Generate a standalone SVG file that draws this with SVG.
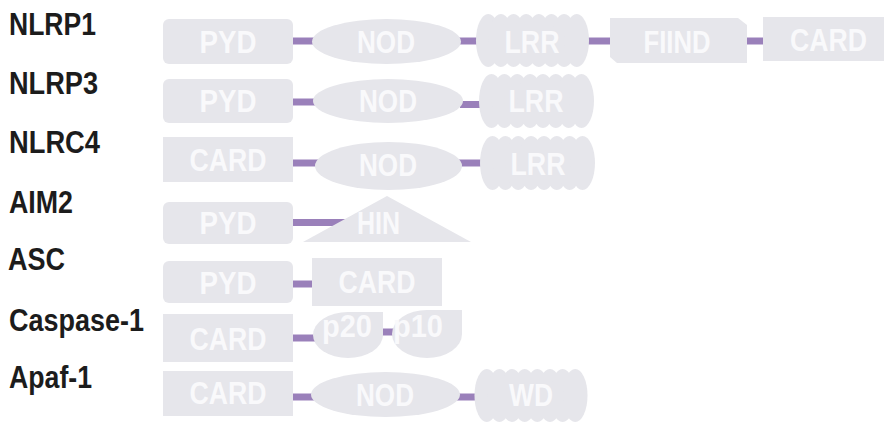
<svg xmlns="http://www.w3.org/2000/svg" xmlns:xlink="http://www.w3.org/1999/xlink" width="884" height="423" viewBox="0 0 884 423">
<style>
.lbl{font-family:"Liberation Sans",Arial,sans-serif;font-weight:bold;font-size:31px;fill:#1c1c1c}
.dom{fill:#e6e6eb}
.dt{font-family:"Liberation Sans",Arial,sans-serif;font-weight:bold;font-size:31px;fill:#f9f9fb;text-anchor:middle}
.con line{stroke:#9a80ba;stroke-width:7;stroke-linecap:butt}
</style>
<defs>
<g id="scallop">
<ellipse cx="-45" cy="0" rx="12.5" ry="27"/>
<ellipse cx="-32.14" cy="0" rx="12.5" ry="27"/>
<ellipse cx="-19.29" cy="0" rx="12.5" ry="27"/>
<ellipse cx="-6.43" cy="0" rx="12.5" ry="27"/>
<ellipse cx="6.43" cy="0" rx="12.5" ry="27"/>
<ellipse cx="19.29" cy="0" rx="12.5" ry="27"/>
<ellipse cx="32.14" cy="0" rx="12.5" ry="27"/>
<ellipse cx="45" cy="0" rx="12.5" ry="27"/>
</g>
</defs>
<rect width="884" height="423" fill="#ffffff"/>

<g id="labels">
<text class="lbl" x="9" y="35" textLength="87" lengthAdjust="spacingAndGlyphs">NLRP1</text>
<text class="lbl" x="9" y="94" textLength="89" lengthAdjust="spacingAndGlyphs">NLRP3</text>
<text class="lbl" x="9" y="153" textLength="91" lengthAdjust="spacingAndGlyphs">NLRC4</text>
<text class="lbl" x="9" y="213" textLength="64" lengthAdjust="spacingAndGlyphs">AIM2</text>
<text class="lbl" x="8" y="270" textLength="57" lengthAdjust="spacingAndGlyphs">ASC</text>
<text class="lbl" x="9" y="331" textLength="135" lengthAdjust="spacingAndGlyphs">Caspase-1</text>
<text class="lbl" x="9" y="388" textLength="83" lengthAdjust="spacingAndGlyphs">Apaf-1</text>
</g>

<g id="connectors" class="con">
<line x1="292" y1="41" x2="316" y2="41"/>
<line x1="458" y1="41" x2="480" y2="41"/>
<line x1="586" y1="41" x2="613" y2="41"/>
<line x1="745" y1="41" x2="766" y2="41"/>
<line x1="292" y1="102" x2="317" y2="102"/>
<line x1="460" y1="104.5" x2="482" y2="104.5"/>
<line x1="292" y1="163" x2="318" y2="163"/>
<line x1="459" y1="163" x2="484" y2="163"/>
<line x1="292" y1="222.5" x2="350" y2="222.5"/>
<line x1="292" y1="284" x2="315" y2="284"/>
<line x1="292" y1="338" x2="320" y2="338"/>
<line x1="380" y1="332" x2="395" y2="332"/>
<line x1="292" y1="397" x2="315" y2="397"/>
<line x1="457" y1="397" x2="478" y2="397"/>
</g>

<g id="nlrp1">
<g id="nlrp1-pyd"><rect class="dom" x="163" y="19" width="130" height="45" rx="6"/><text class="dt" x="228" y="53" textLength="57" lengthAdjust="spacingAndGlyphs">PYD</text></g>
<g id="nlrp1-nod"><ellipse class="dom" cx="386.5" cy="41.5" rx="74.5" ry="22.5"/><text class="dt" x="386" y="53" textLength="58" lengthAdjust="spacingAndGlyphs">NOD</text></g>
<g id="nlrp1-lrr"><use xlink:href="#scallop" class="dom" transform="translate(532.5,40.5) scale(0.983,0.98)"/><text class="dt" x="532" y="53" textLength="55" lengthAdjust="spacingAndGlyphs">LRR</text></g>
<g id="nlrp1-fiind"><path class="dom" d="M610,18 L738,18 L747,25 L747,63 L617,63 L610,57 Z"/><text class="dt" x="677" y="53" textLength="67" lengthAdjust="spacingAndGlyphs">FIIND</text></g>
<g id="nlrp1-card"><rect class="dom" x="763" y="17" width="131" height="44"/><text class="dt" x="828.5" y="51" textLength="77" lengthAdjust="spacingAndGlyphs">CARD</text></g>
</g>

<g id="nlrp3">
<g id="nlrp3-pyd"><rect class="dom" x="163" y="79" width="130" height="44" rx="6"/><text class="dt" x="228" y="112" textLength="57" lengthAdjust="spacingAndGlyphs">PYD</text></g>
<g id="nlrp3-nod"><ellipse class="dom" cx="388" cy="101" rx="75" ry="22"/><text class="dt" x="388" y="112" textLength="58" lengthAdjust="spacingAndGlyphs">NOD</text></g>
<g id="nlrp3-lrr"><use xlink:href="#scallop" class="dom" transform="translate(536.5,101)"/><text class="dt" x="536" y="112" textLength="55" lengthAdjust="spacingAndGlyphs">LRR</text></g>
</g>

<g id="nlrc4">
<g id="nlrc4-card"><rect class="dom" x="163" y="137" width="130" height="45"/><text class="dt" x="228" y="171" textLength="77" lengthAdjust="spacingAndGlyphs">CARD</text></g>
<g id="nlrc4-nod"><ellipse class="dom" cx="388.5" cy="166" rx="73.5" ry="24"/><text class="dt" x="388" y="176" textLength="58" lengthAdjust="spacingAndGlyphs">NOD</text></g>
<g id="nlrc4-lrr"><use xlink:href="#scallop" class="dom" transform="translate(537.5,163)"/><text class="dt" x="538" y="175" textLength="55" lengthAdjust="spacingAndGlyphs">LRR</text></g>
</g>

<g id="aim2">
<g id="aim2-pyd"><rect class="dom" x="163" y="202" width="130" height="42" rx="6"/><text class="dt" x="228" y="234" textLength="57" lengthAdjust="spacingAndGlyphs">PYD</text></g>
<g id="aim2-hin"><path class="dom" d="M303,242 L387,196 L471,242 Z"/><text class="dt" x="378.5" y="234" textLength="43" lengthAdjust="spacingAndGlyphs">HIN</text></g>
</g>

<g id="asc">
<g id="asc-pyd"><rect class="dom" x="163" y="261" width="130" height="42" rx="6"/><text class="dt" x="228" y="294" textLength="57" lengthAdjust="spacingAndGlyphs">PYD</text></g>
<g id="asc-card"><rect class="dom" x="312" y="258" width="130" height="48"/><text class="dt" x="377" y="293" textLength="77" lengthAdjust="spacingAndGlyphs">CARD</text></g>
</g>

<g id="caspase1">
<g id="casp1-card"><rect class="dom" x="163" y="314" width="130" height="48"/><text class="dt" x="228" y="350" textLength="77" lengthAdjust="spacingAndGlyphs">CARD</text></g>
<g id="casp1-p20"><path class="dom" d="M348,312 L383,312 L383,335 A35,23 0 0 1 348,358 A35,23 0 0 1 313,335 A35,23 0 0 1 348,312 Z"/><text class="dt" x="347" y="337" textLength="50" lengthAdjust="spacingAndGlyphs">p20</text></g>
<g id="casp1-p10"><path class="dom" d="M427,310 L462,310 L462,334 A35,24 0 0 1 427,358 A35,24 0 0 1 392,334 A35,24 0 0 1 427,310 Z"/><text class="dt" x="418" y="337" textLength="50" lengthAdjust="spacingAndGlyphs">p10</text></g>
</g>

<g id="apaf1">
<g id="apaf1-card"><rect class="dom" x="163" y="371" width="130" height="45"/><text class="dt" x="228" y="404" textLength="77" lengthAdjust="spacingAndGlyphs">CARD</text></g>
<g id="apaf1-nod"><ellipse class="dom" cx="385.5" cy="394.5" rx="74.5" ry="22.5"/><text class="dt" x="385" y="406" textLength="58" lengthAdjust="spacingAndGlyphs">NOD</text></g>
<g id="apaf1-wd"><use xlink:href="#scallop" class="dom" transform="translate(531,395.5) scale(0.983,0.98)"/><text class="dt" x="531" y="406" textLength="44" lengthAdjust="spacingAndGlyphs">WD</text></g>
</g>
</svg>
